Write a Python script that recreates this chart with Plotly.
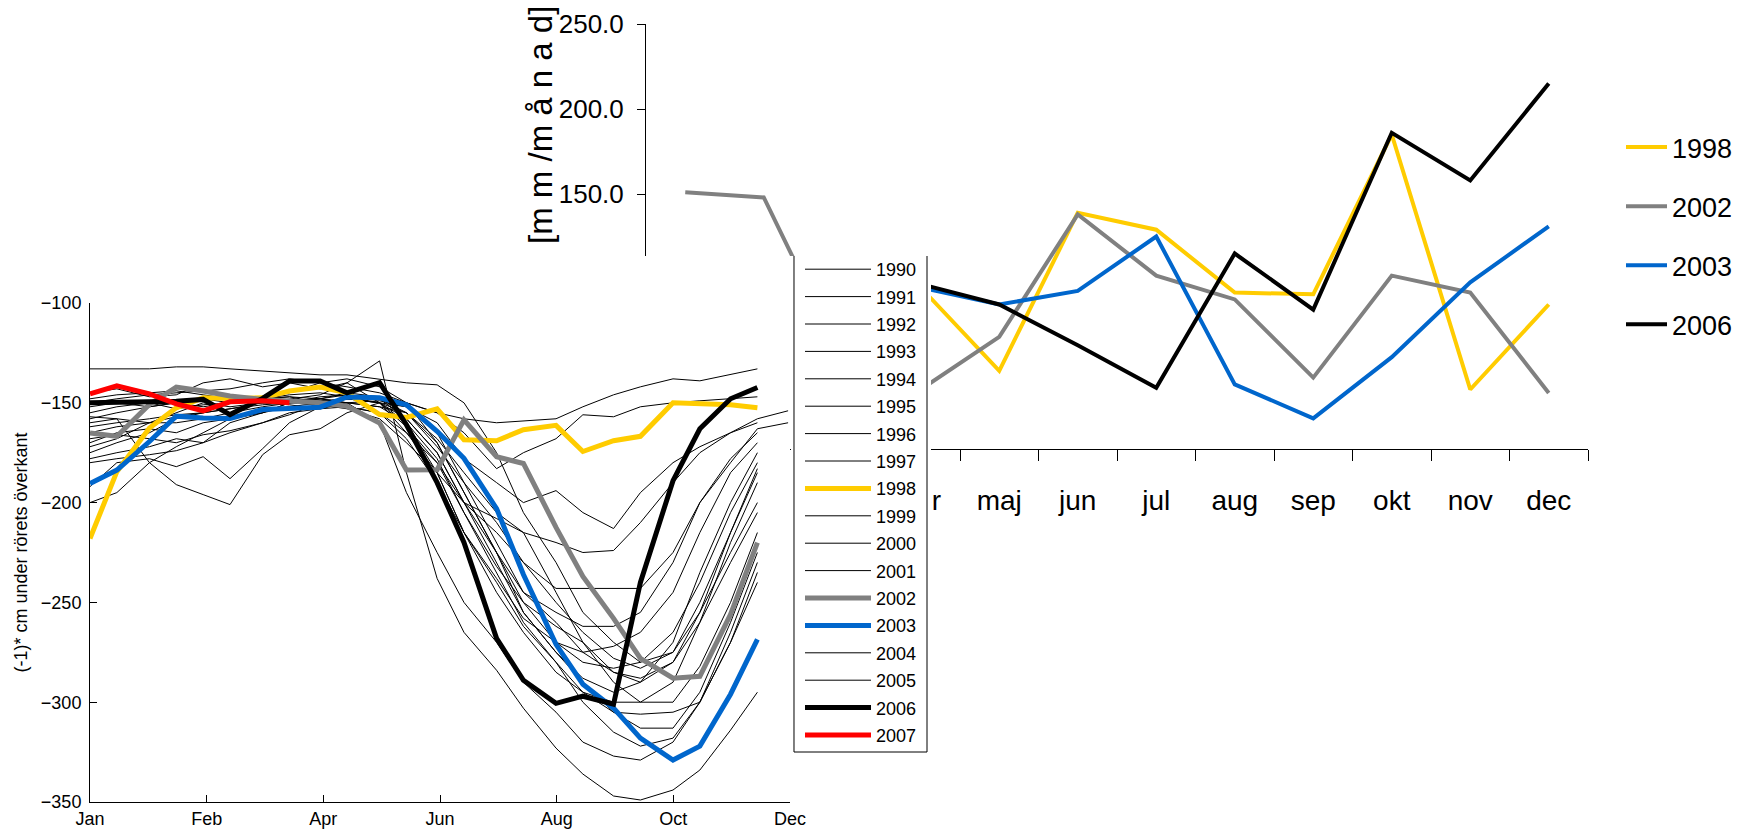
import plotly.graph_objects as go

W, H = 1740, 829

# ---------------- Left chart: groundwater level (cm) ----------------
days = [0, 14, 31, 45, 59, 73, 90, 104, 120, 134, 151, 165, 181, 195, 212, 226,
        243, 257, 273, 287, 304, 318, 334, 348, 364]
left_tickvals = [0, 60.83, 121.67, 182.5, 243.33, 304.17, 365]
left_ticktext = ['Jan', 'Feb', 'Apr', 'Jun', 'Aug', 'Oct', 'Dec']

# years before 1990 (their legend entries are cropped away in the original)
y1983 = [-175, -170, -165, -158, -155, -150, -147, -145, -140, -138, -142, -150, -170, -195, -225, -255, -275, -290, -305, -313, -313, -295, -260, -225, None]
y1984 = [-168, -166, -168, -170, -166, -164, -160, -156, -150, -148, -150, -160, -185, -215, -240, -262, -280, -300, -315, -322, -318, -300, -265, -230, None]
y1985 = [-152, -150, -149, -150, -152, -150, -148, -146, -145, -147, -150, -158, -175, -200, -225, -245, -255, -262, -262, -255, -230, -200, -180, -163, -160]
y1986 = [-158, -155, -152, -150, -148, -147, -150, -151, -153, -152, -155, -168, -190, -215, -238, -258, -270, -275, -272, -265, -245, -215, -185, -170, None]
y1987 = [-162, -160, -158, -156, -155, -153, -151, -150, -149, -148, -150, -162, -180, -205, -232, -250, -262, -270, -290, -300, -300, -282, -250, -215, None]
y1988 = [-148, -146, -145, -144, -146, -148, -150, -150, -151, -153, -158, -170, -185, -200, -208, -215, -245, -270, -285, -290, -280, -260, -230, -205, None]
y1989 = [-180, -178, -176, -174, -170, -160, -155, -150, -147, -146, -148, -155, -172, -190, -210, -230, -250, -265, -278, -283, -275, -255, -215, -183, None]

y1990 = [-172, -168, -160, -157, -155, -153, -150, -148, -146, -140, -129, -185, -238, -265, -284, -303, -323, -336, -347, -349, -344, -334, -314, -295, None]
y1991 = [-150, -150, -152, -150, -148, -150, -148, -147, -148, -150, -160, -195, -225, -250, -270, -290, -305, -320, -327, -329, -320, -300, -270, -240, None]
y1992 = [-133, -133, -133, -132, -132, -133, -134, -135, -136, -136, -138, -140, -141, -150, -175, -205, -230, -255, -270, -280, -275, -250, -215, -185, None]
y1993 = [-145, -143, -147, -146, -140, -138, -142, -140, -143, -140, -150, -165, -185, -215, -245, -265, -285, -295, -300, -300, -290, -260, -220, -190, None]
y1994 = [-200, -195, -180, -172, -165, -158, -155, -150, -148, -146, -148, -158, -175, -200, -230, -255, -275, -288, -295, -290, -270, -235, -200, -175, None]
y1995 = [-192, -180, -178, -182, -177, -188, -173, -160, -152, -148, -150, -155, -170, -195, -225, -250, -270, -280, -283, -280, -265, -240, -205, -180, None]
y1996 = [-160, -158, -180, -191, -196, -201, -176, -166, -163, -155, -150, -152, -165, -190, -220, -245, -260, -275, -285, -288, -280, -255, -225, -200, None]
y1997 = [-155, -152, -150, -153, -151, -150, -148, -147, -150, -152, -155, -165, -180, -200, -215, -230, -243, -243, -243, -243, -225, -200, -178, -165, None]
y1998 = [-218, -184.5, -162.6, -152.5, -147.5, -147.8, -147.5, -144.1, -142.1, -145, -155.9, -157.3, -153, -168.5, -169, -163.5, -161.3, -174.4, -169, -166.8, -150, -150.5, -151, -152.5, None]
y1999 = [-170, -165, -163, -165, -160, -158, -155, -152, -150, -150, -149, -152, -160, -178, -190, -200, -194, -205, -213, -195, -180, -172, -165, -160, None]
y2000 = [-178, -175, -172, -168, -170, -165, -160, -155, -153, -150, -152, -155, -168, -185, -205, -215, -220, -225, -224, -210, -190, -175, -165, -158, -154]
y2001 = [-165, -162, -160, -160, -158, -155, -152, -150, -148, -145, -147, -150, -155, -165, -183, -175, -168, -156, -157, -152, -150, -149, -148, -147, None]
y2002 = [-165.1, -166.8, -150.8, -142.1, -144.1, -146.6, -148.3, -149.2, -150, -151.7, -160.1, -183.7, -183.5, -158.5, -177, -180.4, -212.4, -237, -258, -278, -288, -287, -256, -220, None]
y2003 = [-190.4, -183.7, -169.4, -156.7, -157.6, -157.9, -153.4, -152.9, -152.2, -147.1, -147.5, -151, -164.3, -177.8, -203, -236, -271, -291, -303, -318, -329, -322, -296, -268.5, None]
y2004 = [-150, -148, -146, -145, -144, -143, -140, -138, -140, -142, -145, -150, -155, -158, -160, -159, -158, -152, -146, -142, -138, -139, -136, -133, None]
y2005 = [-157, -158, -160, -155, -150, -152, -150, -149, -148, -150, -152, -160, -178, -205, -235, -260, -280, -295, -305, -306, -305, -300, -270, -235, None]
y2006 = [-150, -150, -149.5, -149.2, -148.3, -155.9, -147.8, -139.1, -139.1, -145, -139.9, -161, -190, -220, -268, -289, -300.6, -297, -301, -240, -189, -163, -148, -142.3, None]
y2007 = [-145.5, -141.5, -145.5, -150.5, -154, -149.5, -149, -150] + [None] * 17

hidden_years = [(1983, y1983), (1984, y1984), (1985, y1985), (1986, y1986),
                (1987, y1987), (1988, y1988), (1989, y1989)]
thin_years = [(1990, y1990), (1991, y1991), (1992, y1992), (1993, y1993),
              (1994, y1994), (1995, y1995), (1996, y1996), (1997, y1997),
              (1999, y1999), (2000, y2000), (2001, y2001), (2004, y2004),
              (2005, y2005)]
thick_years = [(1998, y1998, '#FFCC00'), (2002, y2002, '#808080'),
               (2003, y2003, '#0066CC'), (2006, y2006, '#000000'),
               (2007, y2007, '#FF0000')]
left_y_range = [-350, -100]
left_x_range = [0, 365]

# ---------------- Right chart: precipitation (mm/month) ----------------
months = ['jan', 'feb', 'mar', 'apr', 'maj', 'jun', 'jul', 'aug', 'sep', 'okt', 'nov', 'dec']
p1998 = [None, None, None, 95, 46, 139, 129, 92, 91, 185, 35, 85]
p2002 = [151, 148, 53, 35, 66, 138, 102, 88, 42, 102, 92, 33]
p2003 = [None, None, None, 95, 85, 93, 125, 38, 18, 54, 98, 131]
p2006 = [None, None, None, 97, 85, 61, 36, 115, 82, 186, 158, 215]
right_series = [('1998', p1998, '#FFCC00'), ('2002', p2002, '#808080'),
                ('2003', p2003, '#0066CC'), ('2006', p2006, '#000000')]
right_title = '[m m /m å n a d]'
left_title = '(-1)* cm under rörets överkant'

REG = 'Liberation Sans, Arial, sans-serif'

fig = go.Figure()

# right chart first (lower layer)
for name, vals, col in right_series:
    fig.add_trace(go.Scatter(x=months, y=vals, mode='lines', name=name,
                             line=dict(color=col, width=4), xaxis='x', yaxis='y',
                             legend='legend', legendgroup='r' + name,
                             hoverinfo='skip'))

# left chart
for yr, vals in hidden_years:
    fig.add_trace(go.Scatter(x=days, y=vals, mode='lines', name=str(yr),
                             line=dict(color='black', width=1), xaxis='x2', yaxis='y2',
                             showlegend=False, hoverinfo='skip'))
for yr, vals in thin_years:
    fig.add_trace(go.Scatter(x=days, y=vals, mode='lines', name=str(yr),
                             line=dict(color='black', width=1), xaxis='x2', yaxis='y2',
                             legend='legend2', legendgroup='l' + str(yr),
                             legendrank=yr, hoverinfo='skip'))
for yr, vals, col in thick_years:
    fig.add_trace(go.Scatter(x=days, y=vals, mode='lines', name=str(yr),
                             line=dict(color=col, width=5), xaxis='x2', yaxis='y2',
                             legend='legend2', legendgroup='l' + str(yr),
                             legendrank=yr, hoverinfo='skip'))


def px(x):
    return x / W


def py(y):
    return 1 - y / H


shapes = [
    # left plot area background, drawn in the left subplot (covers chart behind)
    dict(type='rect', xref='x2', yref='y2', x0=left_x_range[0], x1=left_x_range[1],
         y0=left_y_range[0], y1=left_y_range[1], fillcolor='white',
         line=dict(width=0), layer='below'),
    # strip above left plot
    dict(type='rect', xref='paper', yref='paper', x0=px(500), x1=px(931),
         y0=py(304), y1=py(256), fillcolor='white', line=dict(width=0), layer='above'),
    # legend area
    dict(type='rect', xref='paper', yref='paper', x0=px(791), x1=px(931),
         y0=py(753), y1=py(256), fillcolor='white', line=dict(width=0), layer='above'),
    # legend box outline (top cropped)
    dict(type='path', xref='paper', yref='paper',
         path='M {:.5f},{:.5f} L {:.5f},{:.5f} L {:.5f},{:.5f} L {:.5f},{:.5f}'.format(
             px(794), py(256), px(794), py(752), px(927), py(752), px(927), py(256)),
         line=dict(color='black', width=1), layer='above'),
]

annotations = [
    dict(text=right_title, xref='paper', yref='paper', x=px(541), y=py(125),
         xanchor='center', yanchor='middle', textangle=-90, showarrow=False,
         font=dict(family=REG, size=33, color='black')),
]

fig.update_layout(
    width=W, height=H, margin=dict(l=0, r=0, t=0, b=0, autoexpand=False),
    paper_bgcolor='white', plot_bgcolor='white',
    showlegend=True, shapes=shapes, annotations=annotations,
    xaxis=dict(domain=[px(646), px(1588)], type='category', categoryorder='array',
               categoryarray=months, range=[-0.5, 11.5], showline=True,
               linecolor='black', linewidth=1, ticks='outside', tickson='boundaries',
               ticklen=11, tickcolor='black', showgrid=False, zeroline=False,
               tickfont=dict(family=REG, size=28, color='black'),
               ticklabelstandoff=26, anchor='y', fixedrange=True),
    yaxis=dict(domain=[py(449), py(24)], range=[0, 250], dtick=50, tickformat='.1f',
               showline=True, linecolor='black', linewidth=1, ticks='outside',
               ticklen=8, tickcolor='black', showgrid=False, zeroline=False,
               tickfont=dict(family=REG, size=26, color='black'),
               ticklabelstandoff=8, anchor='x', fixedrange=True),
    xaxis2=dict(domain=[px(90), px(790)], range=left_x_range, tickvals=left_tickvals,
                ticktext=left_ticktext, showline=True, linecolor='black', linewidth=1,
                ticks='inside', ticklen=7, tickcolor='black', showgrid=False,
                zeroline=False, tickfont=dict(family=REG, size=18, color='black'),
                anchor='y2', fixedrange=True),
    yaxis2=dict(domain=[py(802), py(303)], range=left_y_range, dtick=50,
                showline=True, linecolor='black', linewidth=1, ticks='inside',
                ticklen=7, tickcolor='black', showgrid=False, zeroline=False,
                tickfont=dict(family=REG, size=18, color='black'),
                ticklabelstandoff=4,
                title=dict(text=left_title, standoff=8,
                           font=dict(family=REG, size=18, color='black')),
                anchor='x2', fixedrange=True),
    legend=dict(x=px(1621), y=py(123), xanchor='left', yanchor='top',
                bgcolor='rgba(0,0,0,0)', borderwidth=0, itemwidth=41,
                tracegroupgap=21, font=dict(family=REG, size=27, color='black')),
    legend2=dict(x=px(800), y=py(251), xanchor='left', yanchor='top',
                 bgcolor='rgba(0,0,0,0)', borderwidth=0, itemwidth=66,
                 tracegroupgap=1, font=dict(family=REG, size=18, color='black')),
)

fig.write_html('out.html', config={'displayModeBar': False},
               post_script="document.body.style.margin='0';document.body.style.overflow='hidden';")
